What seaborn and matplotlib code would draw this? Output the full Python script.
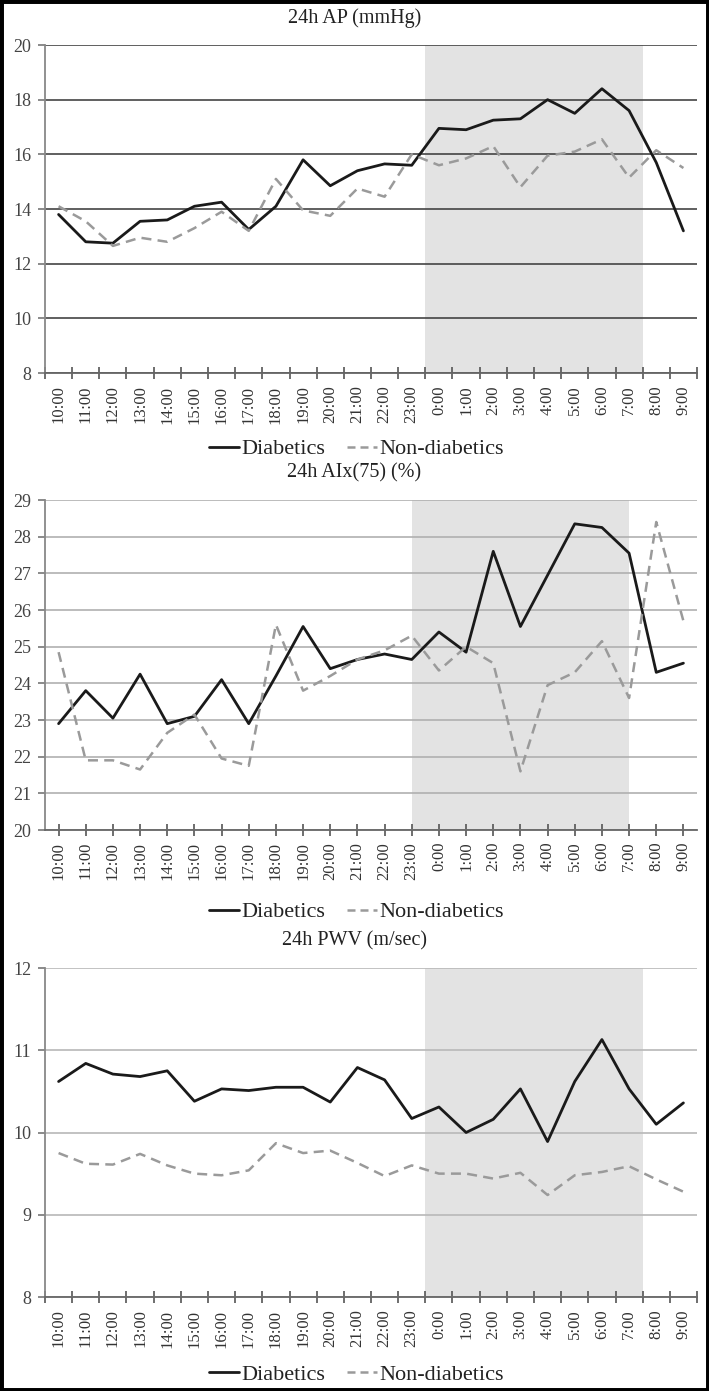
import numpy as np
import pandas as pd
import seaborn as sns
import matplotlib.pyplot as plt
from matplotlib.patches import Rectangle

hours = ['10:00', '11:00', '12:00', '13:00', '14:00', '15:00', '16:00', '17:00',
         '18:00', '19:00', '20:00', '21:00', '22:00', '23:00', '0:00', '1:00',
         '2:00', '3:00', '4:00', '5:00', '6:00', '7:00', '8:00', '9:00']

ap_diab = [13.8, 12.8, 12.75, 13.55, 13.6, 14.1, 14.25, 13.25, 14.1, 15.8, 14.85, 15.4,
           15.65, 15.6, 16.95, 16.9, 17.25, 17.3, 18.0, 17.5, 18.4, 17.6, 15.7, 13.2]
ap_non = [14.1, 13.55, 12.65, 12.95, 12.8, 13.3, 13.9, 13.2, 15.1, 13.95, 13.75, 14.75,
          14.45, 16.0, 15.6, 15.85, 16.3, 14.8, 15.95, 16.1, 16.55, 15.15, 16.15, 15.5]

aix_diab = [22.9, 23.8, 23.05, 24.25, 22.9, 23.1, 24.1, 22.9, 24.2, 25.55, 24.4, 24.65,
            24.8, 24.65, 25.4, 24.85, 27.6, 25.55, 26.95, 28.35, 28.25, 27.55, 24.3, 24.55]
aix_non = [24.85, 21.9, 21.9, 21.65, 22.65, 23.15, 21.95, 21.75, 25.6, 23.8, 24.2, 24.65,
           24.9, 25.3, 24.35, 25.0, 24.55, 21.6, 23.95, 24.3, 25.15, 23.6, 28.4, 25.7]

pwv_diab = [10.62, 10.84, 10.71, 10.68, 10.75, 10.38, 10.53, 10.51, 10.55, 10.55, 10.37, 10.79,
            10.64, 10.17, 10.31, 10.0, 10.16, 10.53, 9.89, 10.62, 11.13, 10.53, 10.1, 10.36]
pwv_non = [9.75, 9.62, 9.61, 9.74, 9.6, 9.5, 9.48, 9.54, 9.87, 9.75, 9.78, 9.63,
           9.47, 9.6, 9.5, 9.5, 9.44, 9.51, 9.24, 9.48, 9.52, 9.59, 9.43, 9.28]

sns.set_style('white')
plt.rcParams['font.family'] = ['Liberation Serif', 'DejaVu Serif']

fig = plt.figure(figsize=(7.09, 13.91), dpi=100)

# title, data, y range, step, grid colour, shade span, ticks between categories, top/bottom px, legend offset
panels = [
    ('24h AP (mmHg)', ap_diab, ap_non, 8, 20, 2, '#444444', (13.5, 21.5), True, 45, 373, 76),
    ('24h AIx(75) (%)', aix_diab, aix_non, 20, 29, 1, '#b0b0b0', (13, 21), False, 500, 830, 82),
    ('24h PWV (m/sec)', pwv_diab, pwv_non, 8, 12, 1, '#b8b8b8', (13.5, 21.5), True, 968, 1297, 78),
]

W, H = 709, 1391
x = np.arange(len(hours))

for title, diab, non, ymin, ymax, step, gcol, span, between, top, bot, loff in panels:
    ax = fig.add_axes([45 / W, 1 - bot / H, 652 / W, (bot - top) / H])
    ax.set_axisbelow(True)
    ax.axvspan(span[0], span[1], color='#e3e3e3', lw=0, zorder=0.1)

    df = pd.DataFrame({'hour': x, 'Diabetics': diab, 'Non-diabetics': non})
    sns.lineplot(data=df, x='hour', y='Diabetics', ax=ax, color='#1a1a1a', lw=2.0,
                 label='Diabetics')
    sns.lineplot(data=df, x='hour', y='Non-diabetics', ax=ax, color='#9a9a9a', lw=1.8,
                 linestyle=(0, (4, 2.5)), label='Non-diabetics')

    ax.set_xlim(-0.5, 23.5)
    ax.set_ylim(ymin, ymax)
    ax.set_yticks(np.arange(ymin, ymax + step / 2, step))
    ax.yaxis.grid(True, color=gcol, lw=1.2)
    ax.xaxis.grid(False)

    ax.set_xticks(x)
    ax.set_xticklabels(hours, rotation=90, fontsize=12, color='#333333')
    if between:
        ax.set_xticks(np.arange(-0.5, 24, 1), minor=True)
        ax.tick_params(axis='x', which='major', bottom=True, length=0, pad=9)
        ax.tick_params(axis='x', which='minor', bottom=True, length=9, direction='inout',
                       width=1.2, color='#555555')
    else:
        ax.tick_params(axis='x', which='major', bottom=True, length=9, direction='inout',
                       width=1.2, color='#555555', pad=4)
    ax.tick_params(axis='y', left=True, length=5, direction='out', width=1.2,
                   color='#777777', labelsize=13, labelcolor='#444444', pad=5)

    for s in ['top', 'right']:
        ax.spines[s].set_visible(False)
    ax.spines['left'].set_color('#888888')
    ax.spines['bottom'].set_color('#666666')
    ax.spines['left'].set_linewidth(1.3)
    ax.spines['bottom'].set_linewidth(1.3)
    ax.set_xlabel('')
    ax.set_ylabel('')

    fig.text(0.5, 1 - (top - 27) / H, title, ha='center', va='center', fontsize=14.5,
             color='#222222')
    leg = ax.legend(loc='center', bbox_to_anchor=(0.503, 1 - (bot + loff) / H),
                    bbox_transform=fig.transFigure, ncol=2, frameon=False, fontsize=16,
                    handlelength=1.35, handletextpad=0.1, columnspacing=1.0,
                    labelcolor='#222222')
    leg.get_lines()[1].set_dashes((3.2, 2.0))

fig.add_artist(Rectangle((0, 0), 1, 1, transform=fig.transFigure, fill=False,
                         lw=5, ec='black'))

fig.savefig('out.png', dpi=100)
